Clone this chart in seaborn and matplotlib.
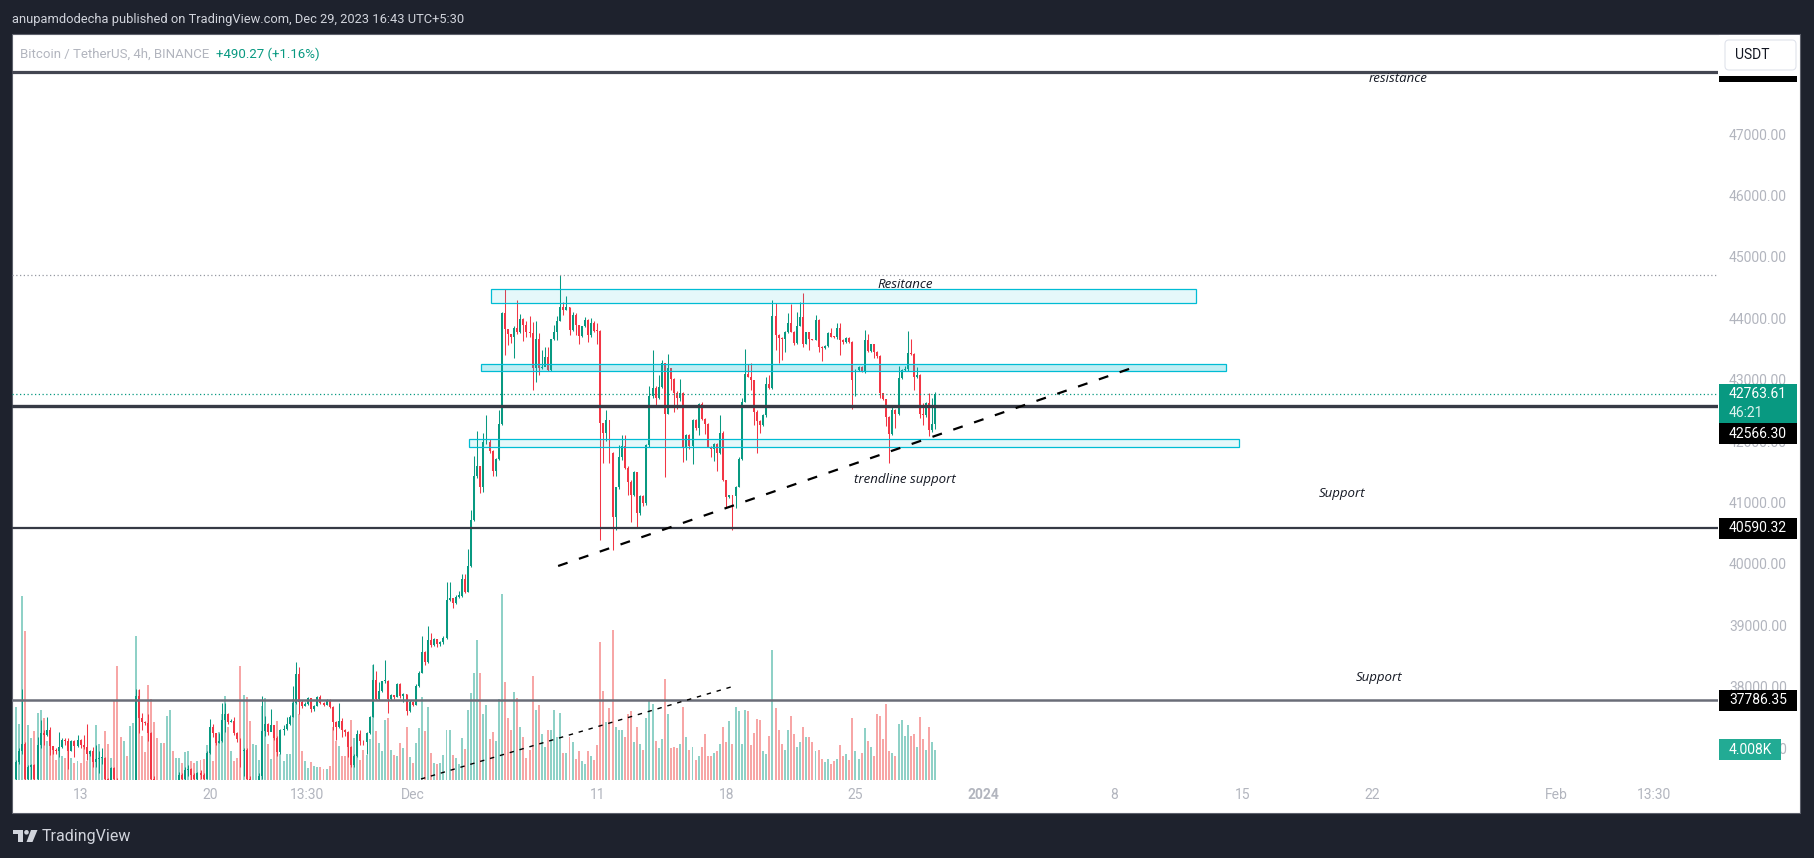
import numpy as np
import pandas as pd
import seaborn as sns
import matplotlib.pyplot as plt
from matplotlib.patches import Rectangle, FancyBboxPatch, Polygon, Circle

# BTCUSDT 4h candles, Nov 9 12:00 -> Dec 29 08:00
open0 = 36500
closes = [
    36780, 36960, 37070, 36500, 36700, 36730, 36500, 37050, 37240, 37220,
    37300, 37030, 36970, 36960, 37020, 37130, 37110, 36960, 37120, 37040,
    37130, 37050, 37020, 36900, 36950, 36780, 36820, 36835, 36845, 36500,
    36300, 36680, 36500, 36200, 35600, 35700, 35550, 35800, 36100, 37850,
    37490, 37420, 37410, 37240, 36500, 36100, 35800, 36000, 35700, 36050,
    36200, 36050, 36400, 36560, 36500, 36650, 36660, 36560, 36500, 36590,
    36560, 36500, 36920, 37350, 37240, 37090, 37110, 37460, 37560, 37430,
    37450, 37250, 37150, 36960, 36970, 36500, 35900, 36100, 36350, 36550,
    37280, 37390, 37270, 37370, 37160, 36930, 37300, 37320, 37400, 37510,
    37730, 38200, 37760, 37690, 37720, 37810, 37630, 37690, 37830, 37740,
    37710, 37790, 37670, 37420, 37350, 37450, 37300, 37270, 37020, 36730,
    36870, 37230, 37110, 37100, 37240, 37510, 38110, 37800, 37930, 38090,
    38100, 37800, 37860, 37840, 38040, 37850, 37880, 37600, 37760, 37710,
    38020, 38230, 38560, 38400, 38760, 38680, 38770, 38690, 38730, 38800,
    39420, 39445, 39370, 39470, 39480, 39750, 39550, 39970, 40710, 41440,
    41590, 41260, 41980, 41990, 41840, 41520, 41710, 42280, 44080, 43820,
    43740, 43690, 43850, 43770, 43990, 43900, 43780, 43760, 43190, 43660,
    43190, 43200, 43365, 43160, 43660, 43770, 43960, 44180, 44140, 44180,
    43810, 44060, 43890, 43720, 43870, 43980, 43730, 43920, 43800, 43790,
    42300, 42130, 42350, 41800, 40770, 41250, 41740, 41920, 41560, 41340,
    41120, 41490, 40830, 41110, 40990, 41940, 42740, 42870, 42710, 42890,
    43270, 42450, 43190, 43020, 42790, 42700, 42790, 41900, 42100, 41920,
    42350, 42220, 42600, 42360, 42280, 41910, 41880, 41960, 41800, 42130,
    41360, 41090, 41120, 41110, 41260, 41710, 42640, 43090, 43050, 42990,
    42480, 42330, 42260, 42430, 42930, 42860, 44040, 43730, 43680, 43660,
    43780, 43930, 43780, 43600, 43880, 44020, 43590, 43770, 43660, 43650,
    43980, 43530, 43510, 43550, 43760, 43700, 43690, 43840, 43650, 43620,
    43680, 43620, 42990, 43160, 43210, 43130, 43640, 43470, 43580, 43460,
    43380, 42780, 42680, 42400, 42120, 42510, 42440, 43030, 43160, 43180,
    43430, 43420, 43050, 43080, 42440, 42420, 42620, 42180, 42273.34, 42763.61,
]
highs = [
    36800, 37000, 37964, 37100, 36720, 36750, 36740, 37190, 37460, 37300,
    37510, 37340, 37040, 37000, 37270, 37160, 37170, 37170, 37140, 37130,
    37210, 37150, 37210, 37400, 36970, 37020, 37050, 36950, 37000, 36860,
    36520, 36700, 36700, 36520, 36250, 35800, 35750, 35850, 36200, 37960,
    37964, 37570, 37450, 37560, 37260, 36550, 36200, 36100, 36050, 36150,
    36300, 36300, 36480, 36620, 36600, 36700, 36720, 36680, 36600, 36620,
    36640, 36600, 36950, 37480, 37400, 37250, 37250, 37730, 37730, 37570,
    37470, 37500, 37260, 37160, 37000, 37000, 36550, 36300, 36450, 36600,
    37850, 37520, 37410, 37640, 37380, 37200, 37320, 37370, 37500, 37540,
    38020, 38400, 38330, 37780, 37760, 37830, 37820, 37700, 37850, 37870,
    37760, 37800, 37800, 37680, 37440, 37740, 37490, 37320, 37280, 37030,
    36900, 37300, 37300, 37140, 37260, 37530, 38370, 38260, 38070, 38100,
    38430, 38110, 37880, 37870, 38060, 38060, 37900, 37890, 37790, 37770,
    38040, 38250, 38830, 38580, 38990, 38880, 38790, 38780, 38750, 38820,
    39700, 39700, 39450, 39490, 39560, 39830, 39830, 40240, 40880, 41760,
    42170, 41600, 42140, 42420, 42030, 41850, 41730, 42500, 44100, 44480,
    43830, 43750, 43870, 44300, 44070, 44000, 43950, 44040, 43940, 43950,
    43760, 43480, 43530, 43540, 43670, 43890, 44040, 44706, 44270, 44360,
    44190, 44110, 44080, 43900, 43880, 44020, 43990, 44000, 43950, 43920,
    43810, 42300, 42500, 42350, 41830, 41260, 41940, 42100, 42100, 41590,
    41370, 41520, 41500, 41130, 41130, 41960, 42900, 43480, 42900, 43080,
    43330, 43280, 43420, 43190, 43030, 42810, 43020, 42800, 42110, 42110,
    42360, 42360, 42620, 42630, 42370, 42290, 41920, 41970, 41970, 42430,
    42170, 41370, 41130, 41130, 41270, 41740, 42700, 43500, 43260, 43270,
    43000, 42500, 42340, 42440, 43040, 43080, 44300, 44250, 43740, 43690,
    43800, 44090, 44240, 43790, 44110, 44260, 44410, 43780, 43780, 43670,
    44050, 43990, 43550, 43560, 43770, 43840, 43720, 43920, 43920, 43660,
    43700, 43700, 43630, 43170, 43230, 43220, 43810, 43750, 43590, 43590,
    43470, 43400, 42790, 42690, 42410, 42580, 42520, 43230, 43180, 43230,
    43800, 43670, 43430, 43210, 43090, 42620, 42640, 42780, 42700, 42806,
]
lows = [
    36450, 36750, 36900, 36450, 36480, 36500, 36450, 36480, 37000, 37050,
    37200, 36890, 36900, 36910, 36860, 37000, 37050, 36660, 36950, 36860,
    37020, 37000, 36990, 36810, 36880, 36700, 36700, 36600, 36750, 36400,
    35900, 36250, 36380, 35800, 35300, 35400, 35350, 35500, 35750, 36050,
    37240, 37290, 37380, 37110, 36450, 35900, 35600, 35550, 35500, 35650,
    35950, 35900, 36000, 36350, 36450, 36450, 36550, 36480, 36400, 36450,
    36500, 36420, 36490, 36900, 37180, 37050, 37080, 37100, 37270, 37400,
    37420, 37210, 37100, 36700, 36540, 36300, 35700, 35800, 36000, 36300,
    36500, 37200, 37210, 37320, 37130, 36880, 36900, 37210, 37300, 37380,
    37500, 37720, 37560, 37650, 37680, 37700, 37590, 37600, 37680, 37720,
    37680, 37700, 37650, 37300, 37130, 37330, 37190, 37200, 36860, 36690,
    36700, 36850, 37050, 37050, 36910, 37230, 37500, 37780, 37780, 37920,
    38060, 37570, 37790, 37800, 37830, 37820, 37760, 37540, 37590, 37690,
    37700, 38000, 38220, 38350, 38390, 38650, 38660, 38650, 38670, 38700,
    38780, 39400, 39280, 39350, 39440, 39470, 39520, 39540, 39950, 40700,
    41400, 41150, 41180, 41950, 41800, 41430, 41430, 41700, 42270, 43410,
    43570, 43600, 43350, 43740, 43760, 43630, 43700, 43700, 42830, 42970,
    43080, 43180, 43260, 43150, 43150, 43640, 43650, 43950, 44050, 44130,
    43730, 43800, 43730, 43590, 43700, 43860, 43620, 43700, 43780, 43590,
    40390, 41640, 42000, 41640, 40230, 40560, 41220, 41700, 41540, 41120,
    40690, 41100, 40580, 40800, 40950, 40960, 41900, 42700, 42560, 42680,
    42860, 41410, 42440, 42840, 42480, 42530, 42650, 41660, 41690, 41880,
    41630, 42180, 42100, 42340, 42120, 41900, 41750, 41670, 41520, 41790,
    41350, 40930, 41080, 40550, 40910, 41250, 41700, 42630, 43040, 42840,
    42260, 41810, 42130, 42240, 42400, 42850, 42850, 43480, 43270, 43320,
    43460, 43760, 43770, 43560, 43590, 43870, 43540, 43580, 43480, 43640,
    43640, 43460, 43300, 43500, 43540, 43690, 43680, 43670, 43400, 43580,
    43600, 43600, 42520, 42740, 43140, 43120, 43110, 43460, 43450, 43350,
    43360, 42700, 42670, 42240, 41650, 42100, 42220, 42420, 43010, 43150,
    43150, 43400, 42830, 43030, 42380, 42260, 42400, 42080, 42150, 42200,
]
# volume in thousands of BTC
volumes = [
    9.9, 7.6, 24.8, 20.1, 7.4, 5.7, 6.6, 9.0, 9.4, 8.4,
    5.3, 6.0, 4.4, 2.7, 4.4, 3.2, 3.0, 4.0, 3.0, 2.3,
    2.6, 2.3, 4.4, 2.6, 3.5, 3.0, 7.4, 4.9, 3.0, 6.6,
    4.8, 3.0, 10.7, 15.4, 5.8, 5.3, 3.2, 7.3, 7.7, 19.4,
    12.2, 5.9, 3.8, 12.8, 10.9, 7.8, 5.7, 5.0, 5.0, 8.6,
    9.4, 3.9, 3.0, 3.0, 2.3, 3.8, 3.9, 2.6, 2.3, 2.6,
    2.7, 2.8, 4.7, 6.5, 2.6, 5.9, 6.5, 8.9, 11.3, 7.1,
    3.9, 2.6, 3.0, 15.4, 11.5, 11.2, 8.0, 4.8, 4.7, 2.7,
    10.0, 11.1, 4.9, 2.8, 6.6, 8.0, 3.5, 2.6, 3.5, 3.5,
    10.9, 10.9, 8.9, 3.9, 2.5, 1.6, 2.4, 1.9, 1.8, 1.8,
    1.5, 1.5, 1.9, 7.1, 5.2, 4.6, 3.2, 3.2, 6.4, 8.1,
    5.7, 6.2, 2.7, 4.1, 3.4, 5.5, 15.5, 6.6, 5.0, 3.9,
    8.1, 8.4, 4.1, 3.4, 3.2, 5.0, 4.3, 7.1, 3.1, 2.3,
    5.0, 7.0, 11.2, 6.6, 9.8, 3.6, 2.3, 2.1, 2.3, 3.4,
    6.7, 6.7, 3.4, 3.0, 2.1, 5.7, 4.2, 9.4, 11.7, 14.5,
    18.9, 14.4, 8.9, 10.1, 5.6, 6.5, 5.2, 10.9, 25.1, 13.2,
    8.3, 6.8, 11.9, 11.1, 7.1, 5.8, 3.0, 4.1, 14.0, 9.5,
    10.1, 6.2, 4.5, 6.8, 6.8, 9.5, 5.8, 9.0, 3.7, 3.6,
    5.8, 5.1, 2.9, 3.9, 2.5, 2.2, 3.9, 3.3, 2.7, 4.7,
    18.6, 12.0, 7.8, 9.7, 20.3, 7.2, 6.7, 6.7, 5.8, 8.9,
    9.3, 5.1, 7.2, 4.8, 4.0, 8.3, 10.8, 10.2, 5.2, 4.3,
    5.5, 13.6, 8.9, 4.3, 4.4, 4.3, 4.8, 9.9, 5.8, 4.0,
    4.5, 2.7, 3.2, 4.5, 6.2, 3.2, 3.3, 3.6, 3.9, 4.8,
    7.1, 5.1, 7.9, 4.9, 9.9, 9.3, 4.8, 9.4, 9.3, 4.7,
    6.4, 8.2, 8.1, 3.9, 3.5, 6.0, 17.6, 9.7, 6.7, 4.8,
    4.0, 6.7, 8.6, 6.2, 4.4, 5.1, 7.1, 5.8, 5.8, 5.1,
    3.9, 4.0, 2.8, 2.4, 2.9, 2.2, 2.5, 2.9, 4.7, 3.2,
    3.5, 2.7, 8.3, 3.9, 2.9, 3.7, 7.0, 5.2, 4.4, 3.3,
    8.9, 8.7, 5.6, 10.2, 3.9, 3.6, 3.3, 7.6, 8.1, 5.9,
    7.4, 6.0, 6.2, 4.4, 8.5, 5.6, 4.1, 7.1, 5.1, 4.008,
]

# drawn levels / zones
level_lines = [48017.60, 42566.30, 40590.32, 37786.35]
high_price = 44706
last_price = 42763.61
zones = [(154.5, 383.7, 44245, 44473, 0.10),
         (151.2, 393.5, 43135, 43252, 0.25),
         (147.3, 397.7, 41905, 42030, 0.10)]
trend_x = [176.3, 362.9]
trend_y = [39967, 43192]
trend2_x = [131.7, 232.5]
trend2_y = [36498, 37996]

tick_pos = [21, 63, 94.6, 129, 189, 231, 273, 314.5, 357, 399, 441, 501, 532.7]
tick_text = ['13', '20', '13:30', 'Dec', '11', '18', '25', '2024', '8', '15', '22', 'Feb', '13:30']
price_ticks = [37000, 38000, 39000, 40000, 41000, 42000, 43000, 44000, 45000, 46000, 47000]

plt.rcParams['font.family'] = ['Roboto', 'DejaVu Sans']

TEAL = '#089981'
RED = '#f23645'
GREY_TXT = '#b2b5be'
W, H = 1814, 858
X0, X1 = 12, 1718       # pane left / right (px)
Y0, Y1 = 34, 780        # pane top / bottom (px)

fig = plt.figure(figsize=(W / 100, H / 100), dpi=100, facecolor='#1e222d')


def fx(px):
    return px / W


def fy(py):
    return 1 - py / H


fig.add_artist(Rectangle((fx(12), fy(813)), fx(1800) - fx(12), fy(34) - fy(813),
                         transform=fig.transFigure, facecolor='white',
                         edgecolor='#5d606b', lw=0.8, zorder=-1))

rect = [fx(X0), fy(Y1), fx(X1) - fx(X0), fy(Y0) - fy(Y1)]
xlim = ((X0 - 16) / 3.075, (X1 - 16) / 3.075)
ylim = (36481.6, 48631.3)

c = np.array(closes, dtype=float)
o = np.r_[open0, c[:-1]]
idx = np.arange(len(c))
up = c >= o

# volume pane (overlay, own scale)
axv = fig.add_axes(rect)
df = pd.DataFrame({'i': idx, 'vol': volumes, 'dir': np.where(up, 'up', 'down')})
sns.barplot(data=df, x='i', y='vol', hue='dir',
            palette={'up': '#8fd1c7', 'down': '#f7a6a6'},
            native_scale=True, dodge=False, width=0.65, errorbar=None,
            legend=False, saturation=1, linewidth=0, ax=axv)
axv.set_xlim(*xlim)
axv.set_ylim(0, (Y1 - Y0) / 7.41)
axv.axis('off')
axv.patch.set_visible(False)

# price pane
ax = fig.add_axes(rect)
ax.patch.set_visible(False)
cols = np.where(up, TEAL, RED)
ax.vlines(idx, lows, highs, colors=cols, lw=0.75, zorder=2)
body_lo = np.minimum(o, c)
body_h = np.maximum(np.abs(c - o), 18)
ax.bar(idx, body_h, bottom=body_lo, width=0.62, color=cols, lw=0, zorder=3)

ax.axhline(level_lines[0], color='#434651', lw=2.3, zorder=4)
ax.axhline(level_lines[1], color='#363a45', lw=2.4, zorder=4)
ax.axhline(level_lines[2], color='#363a45', lw=1.6, zorder=4)
ax.axhline(level_lines[3], color='#6a6d78', lw=1.8, zorder=4)
ax.axhline(high_price, color='#9598a1', lw=0.9, ls=(0, (1, 2)), zorder=4)
ax.axhline(last_price, color=TEAL, lw=0.9, ls=(0, (1, 2)), zorder=4)

for xa, xb, pa, pb, al in zones:
    ax.add_patch(Rectangle((xa, pa), xb - xa, pb - pa, facecolor=(0, 188 / 255, 212 / 255, al),
                           edgecolor='#00bcd4', lw=0.9, zorder=5))

ax.plot(trend_x, trend_y, color='black', lw=1.6, ls=(0, (4.5, 5.4)), zorder=6)
ax.plot(trend2_x, trend2_y, color='black', lw=1.0, ls=(0, (3.2, 4.2)), zorder=6)

ax.set_xlim(*xlim)
ax.set_ylim(*ylim)
for s in ax.spines.values():
    s.set_visible(False)
ax.set_xticks(tick_pos, tick_text)
ax.yaxis.tick_right()
ax.set_yticks(price_ticks, [f'{v:.2f}' for v in price_ticks])
ax.tick_params(axis='x', length=0, pad=6, labelcolor=GREY_TXT, labelsize=10)
ax.tick_params(axis='y', length=0, pad=8, labelcolor=GREY_TXT, labelsize=10)
ax.get_xticklabels()[7].set_fontweight('bold')

# overlay in pixel coordinates
ov = fig.add_axes([0, 0, 1, 1])
ov.set_xlim(0, W)
ov.set_ylim(H, 0)
ov.axis('off')
ov.patch.set_visible(False)
ov.set_zorder(10)

ov.text(12, 20, 'anupamdodecha published on TradingView.com, Dec 29, 2023 16:43 UTC+5:30',
        color='#d1d4dc', fontsize=9.3, va='center', ha='left')
t1 = ov.text(20, 54, 'Bitcoin / TetherUS, 4h, BINANCE', color=GREY_TXT, fontsize=9.5,
             va='center', ha='left')
ov.annotate('+490.27 (+1.16%)', xy=(1, 0.5), xycoords=t1, xytext=(5, 0),
            textcoords='offset points', color=TEAL, fontsize=9.5, va='center', ha='left')

ital = dict(family=['Open Sans', 'DejaVu Sans'], style='italic', fontsize=9.5,
            color='#131722', va='center', ha='center')
ov.text(905, 284, 'Resitance', **ital)
ov.text(905, 479, 'trendline support', **ital)
ov.text(1342, 494, 'Support', **ital)
ov.text(1379, 677, 'Support', **ital)
ov.text(1398, 79, 'resistance', **ital)


def price_box(y0, y1, label, face, right=1797):
    ov.add_patch(Rectangle((1719, y0), right - 1719, y1 - y0, facecolor=face, lw=0))
    ov.text(1729, (y0 + y1) / 2, label, color='white', fontsize=10, va='center', ha='left')


price_box(60, 82, '48017.60', 'black')
price_box(423, 444, '42566.30', 'black')
price_box(518, 539, '40590.32', 'black')
price_box(690, 711, '37786.35', 'black')
ov.add_patch(Rectangle((1719, 384), 78, 39, facecolor=TEAL, lw=0))
ov.text(1729, 394.5, '42763.61', color='white', fontsize=10, va='center', ha='left')
ov.text(1729, 413, '46:21', color='#dff3ef', fontsize=10, va='center', ha='left')
price_box(739, 760, '4.008K', '#22ab94', right=1781)

# toolbar strip over the price scale, hiding most of the top label
ov.add_patch(Rectangle((1719, 35), 80, 41, facecolor='white', lw=0, zorder=4))
ov.add_patch(FancyBboxPatch((1725, 40), 71, 30, boxstyle='round,pad=0,rounding_size=4',
                            facecolor='white', edgecolor='#e0e3eb', lw=0.8, zorder=5))
ov.text(1735, 55, 'USDT', color='#131722', fontsize=10, va='center', ha='left', zorder=6)

# footer logo
ov.add_patch(Polygon([(13, 830), (23, 830), (23, 842), (18, 842), (18, 834), (13, 834)],
                     facecolor='#d1d4dc', lw=0))
ov.add_patch(Circle((26.5, 832.3), 2.3, facecolor='#d1d4dc', lw=0))
ov.add_patch(Polygon([(31, 830), (37.5, 830), (32.5, 842), (26.5, 842)],
                     facecolor='#d1d4dc', lw=0))
ov.text(42, 836.5, 'TradingView', color='#d1d4dc', fontsize=11.5, va='center', ha='left')

fig.savefig('out.png', dpi=100, facecolor=fig.get_facecolor())
